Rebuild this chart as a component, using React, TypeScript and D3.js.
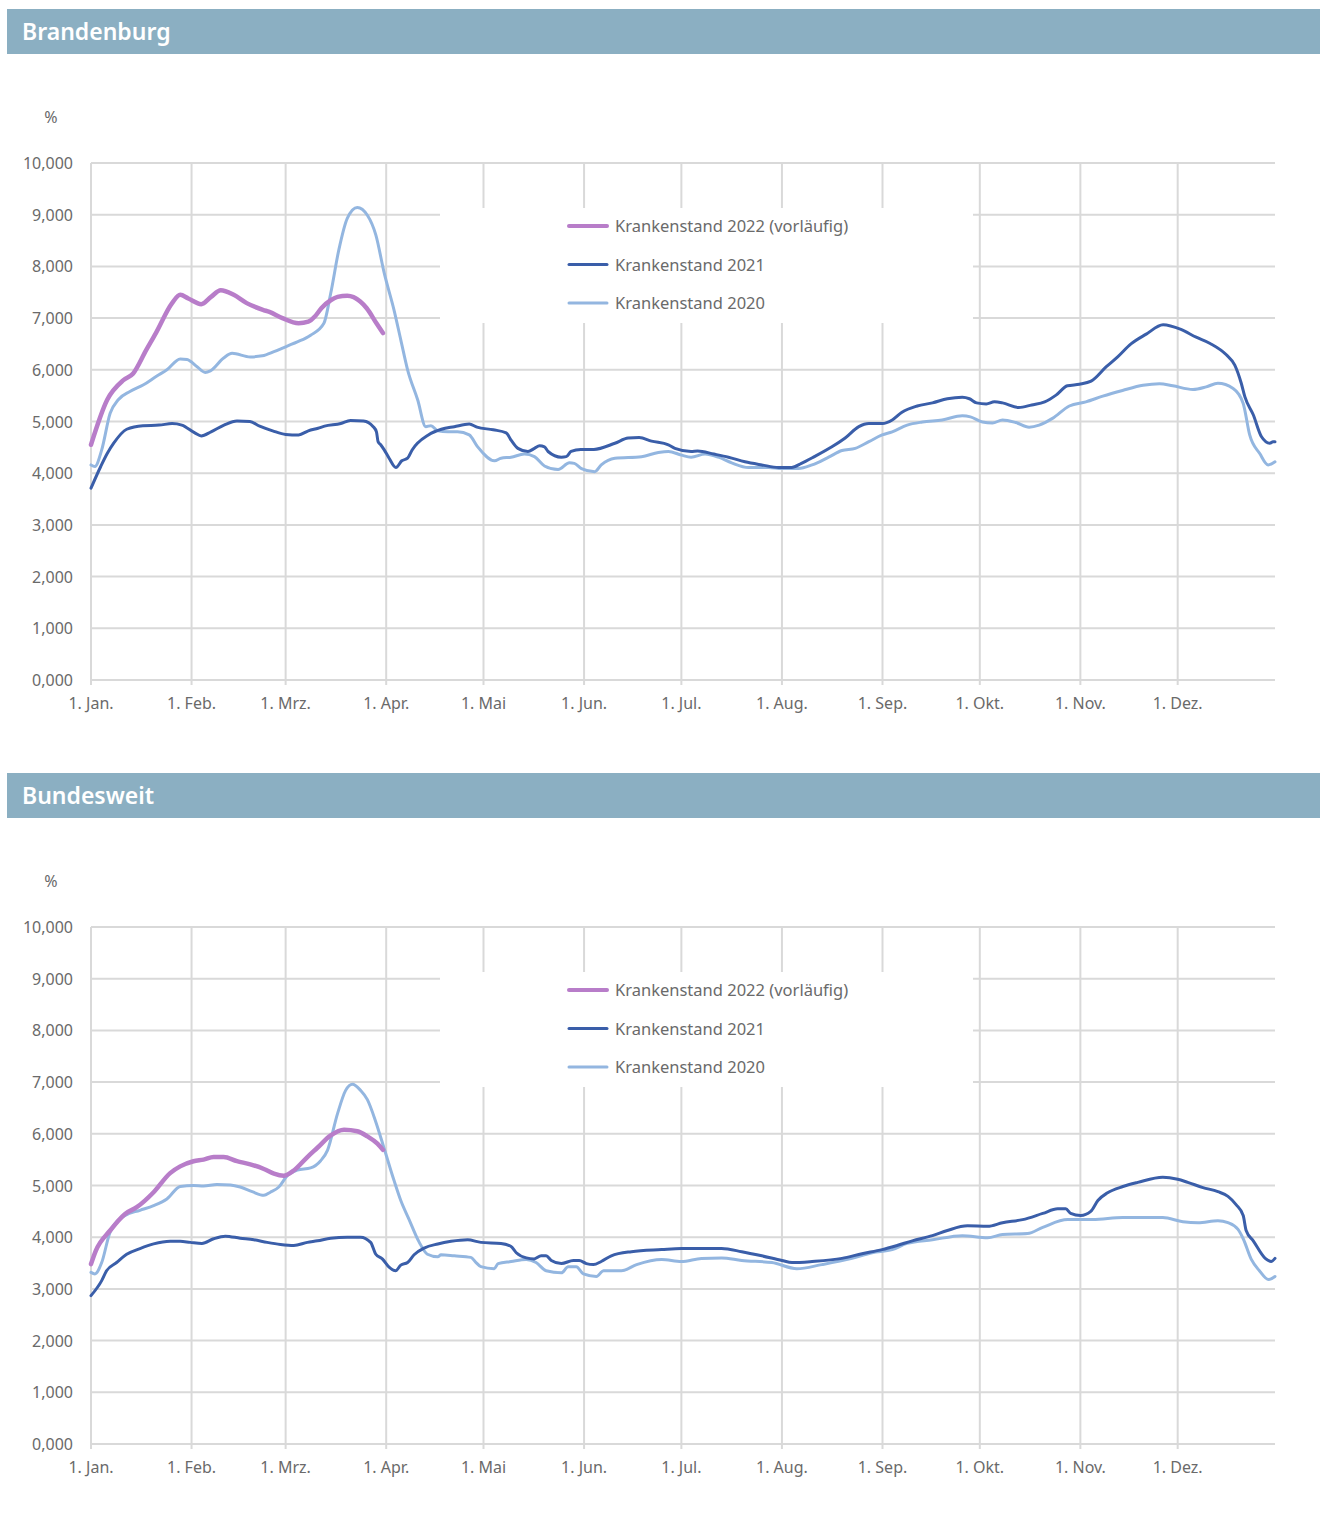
import React from 'react';
import * as d3 from 'd3';

// x values are day of year (0 = 1. Jan.), y values are sick-leave rate in %
const monthDays = [0, 31, 60, 91, 121, 152, 182, 213, 244, 274, 305, 335];
const monthLabels = ['1. Jan.', '1. Feb.', '1. Mrz.', '1. Apr.', '1. Mai', '1. Jun.', '1. Jul.', '1. Aug.', '1. Sep.', '1. Okt.', '1. Nov.', '1. Dez.'];
const yTicks = [0, 1, 2, 3, 4, 5, 6, 7, 8, 9, 10];
const seriesLabels = ['Krankenstand 2022 (vorläufig)', 'Krankenstand 2021', 'Krankenstand 2020'];

// Brandenburg
const bbDays2022 = [0, 5, 10, 13, 17, 20, 25, 27.5, 30, 34, 37, 40, 44, 48, 53, 55, 59, 64, 67, 69, 71, 74, 76, 79, 83, 85, 88, 90];
const bbVals2022 = [4.55, 5.42, 5.8, 5.93, 6.38, 6.71, 7.29, 7.45, 7.38, 7.27, 7.41, 7.54, 7.45, 7.29, 7.16, 7.12, 7.0, 6.9, 6.93, 7.03, 7.19, 7.35, 7.41, 7.43, 7.32, 7.19, 6.9, 6.71];

const bbDays2021 = [0, 3, 5, 7, 11, 16, 21, 25, 28, 32, 34, 37, 41, 45, 49, 52, 56, 60, 64, 67, 70, 72, 77, 80, 84, 87, 88, 88.5, 89.3, 90.4, 91.9, 94, 95.8, 97.6, 99, 104, 108, 112, 116.6, 119, 124, 128, 129.5, 131.6, 134.7, 136.7, 138.3, 139.8, 140.9, 145, 146.5, 148, 151, 155, 161.5, 165.6, 169, 172.8, 178, 180, 185, 187, 192, 196.5, 201.6, 206.8, 212, 216, 219, 223, 228.4, 232.5, 236.7, 239.8, 244, 247, 250, 254.7, 259.4, 264, 268.6, 270.8, 273, 276, 278.5, 281, 286, 290, 294, 297.5, 301, 304.7, 308.3, 313, 316.5, 320.6, 325.3, 330.5, 336, 340.7, 345, 350, 352.6, 354.6, 355.7, 358.3, 360.8, 363.4, 364.4, 365];
const bbVals2021 = [3.71, 4.13, 4.38, 4.58, 4.85, 4.92, 4.93, 4.96, 4.93, 4.78, 4.72, 4.8, 4.93, 5.01, 5.0, 4.91, 4.82, 4.75, 4.74, 4.82, 4.87, 4.91, 4.96, 5.02, 5.01, 4.9, 4.8, 4.61, 4.55, 4.45, 4.29, 4.11, 4.24, 4.29, 4.45, 4.74, 4.85, 4.9, 4.95, 4.89, 4.84, 4.78, 4.64, 4.48, 4.42, 4.48, 4.53, 4.51, 4.42, 4.31, 4.32, 4.42, 4.46, 4.46, 4.58, 4.68, 4.69, 4.62, 4.55, 4.48, 4.42, 4.43, 4.37, 4.31, 4.22, 4.16, 4.11, 4.11, 4.19, 4.32, 4.51, 4.68, 4.9, 4.96, 4.96, 5.03, 5.18, 5.3, 5.36, 5.44, 5.47, 5.44, 5.36, 5.34, 5.38, 5.36, 5.27, 5.32, 5.38, 5.51, 5.69, 5.72, 5.78, 6.06, 6.25, 6.5, 6.69, 6.87, 6.78, 6.63, 6.51, 6.29, 6.09, 5.74, 5.48, 5.13, 4.71, 4.58, 4.61, 4.61];

const bbDays2020 = [0, 1.2, 3.3, 5.9, 8.4, 12, 16.2, 20.3, 23.4, 27.5, 29.6, 32.7, 35.2, 36.8, 40.9, 43.5, 49.1, 52.8, 56.4, 60.5, 63.6, 67.7, 71.8, 73.9, 76.4, 79, 82.1, 85.2, 87.8, 90.4, 93.4, 95.5, 97.6, 100.7, 103.2, 104.8, 106.9, 110, 113, 116.6, 119.2, 124.4, 126.4, 129.5, 133.6, 136.7, 139.8, 144, 147.5, 149, 151.2, 155.3, 157.3, 161.5, 169.7, 174.9, 178, 182, 185, 189.3, 193.4, 197.5, 202.7, 208.9, 213, 218.1, 222.3, 227.4, 231.5, 235.6, 239.8, 243.9, 247, 251.6, 256.3, 262.4, 268.6, 271.1, 274.8, 277.9, 281, 285.1, 289.2, 292.3, 296.4, 301.6, 306.7, 311.9, 318, 324.3, 329.4, 333.5, 339.7, 343.8, 347.4, 352.1, 355.2, 357.2, 360.3, 362.9, 365];
const bbVals2020 = [4.16, 4.13, 4.45, 5.16, 5.42, 5.58, 5.71, 5.88, 6.0, 6.21, 6.2, 6.06, 5.95, 5.98, 6.23, 6.32, 6.25, 6.27, 6.35, 6.46, 6.54, 6.67, 6.9, 7.48, 8.32, 8.93, 9.14, 8.99, 8.61, 7.87, 7.16, 6.58, 6.0, 5.42, 4.9, 4.92, 4.82, 4.8, 4.8, 4.74, 4.51, 4.24, 4.29, 4.31, 4.37, 4.32, 4.14, 4.07, 4.2, 4.19, 4.09, 4.03, 4.16, 4.29, 4.32, 4.4, 4.42, 4.35, 4.31, 4.37, 4.31, 4.2, 4.11, 4.11, 4.09, 4.09, 4.16, 4.31, 4.44, 4.48, 4.61, 4.74, 4.8, 4.93, 4.99, 5.03, 5.11, 5.09, 4.99, 4.97, 5.03, 4.98, 4.89, 4.93, 5.06, 5.3, 5.38, 5.49, 5.6, 5.7, 5.73, 5.69, 5.62, 5.67, 5.74, 5.64, 5.35, 4.74, 4.38, 4.16, 4.22];

// Bundesweit
const bwDays2022 = [0, 1.5, 5.9, 10.5, 14.1, 19.3, 24.4, 27.5, 31.6, 34.7, 37.8, 40.9, 45, 49.1, 53.3, 56.4, 59.4, 62.5, 66.7, 69.8, 73.9, 78, 82.1, 85.2, 88.3, 90];
const bwVals2022 = [3.48, 3.74, 4.13, 4.45, 4.58, 4.87, 5.24, 5.37, 5.47, 5.5, 5.55, 5.55, 5.47, 5.41, 5.32, 5.23, 5.19, 5.29, 5.55, 5.73, 5.97, 6.08, 6.05, 5.95, 5.81, 5.69];

const bwDays2021 = [0, 3.3, 4.8, 7.9, 11, 15.1, 19.3, 24.4, 27.5, 30.6, 34.2, 37.8, 41.4, 46, 50.2, 54.3, 58.4, 62.5, 66.7, 69.8, 73.9, 79, 83.1, 86.2, 87.8, 89.8, 91.9, 93.9, 95.5, 97.6, 99.6, 102.7, 106.9, 111, 116.1, 120.2, 126.4, 129.5, 131.1, 134.2, 136.6, 138.8, 140.3, 141.9, 145, 148.7, 150.5, 152.7, 154.9, 157.3, 160.4, 166.6, 175.9, 182, 188.2, 194.4, 200.6, 206.8, 213, 216.1, 222.3, 231.5, 237.7, 243.9, 248.5, 253.2, 259.4, 264, 270.2, 276.4, 281, 287.2, 293.4, 298, 300.5, 302, 305.1, 308.2, 310.4, 313.4, 318.1, 322.7, 330.4, 335, 338.1, 342.8, 347.4, 350.5, 353, 355.2, 356.1, 358.3, 362, 363.8, 365];
const bwVals2021 = [2.87, 3.16, 3.35, 3.51, 3.67, 3.78, 3.87, 3.92, 3.92, 3.9, 3.88, 3.97, 4.02, 3.98, 3.95, 3.9, 3.86, 3.84, 3.9, 3.93, 3.98, 4.0, 4.0, 3.9, 3.67, 3.58, 3.42, 3.35, 3.46, 3.51, 3.66, 3.79, 3.87, 3.92, 3.95, 3.9, 3.88, 3.82, 3.7, 3.6, 3.58, 3.64, 3.64, 3.55, 3.49, 3.55, 3.55, 3.49, 3.47, 3.53, 3.64, 3.72, 3.76, 3.78, 3.78, 3.78, 3.72, 3.64, 3.55, 3.51, 3.53, 3.59, 3.68, 3.76, 3.84, 3.93, 4.03, 4.13, 4.22, 4.21, 4.28, 4.34, 4.46, 4.55, 4.55, 4.46, 4.42, 4.5, 4.71, 4.86, 4.98, 5.06, 5.16, 5.12, 5.06, 4.96, 4.88, 4.79, 4.63, 4.42, 4.13, 3.93, 3.59, 3.53, 3.59];

const bwDays2020 = [0, 1.2, 3.3, 5.9, 10.5, 15.1, 19.3, 23.4, 27.5, 31.6, 34.7, 38.8, 43, 46, 49.7, 53.3, 55.3, 57.9, 60.5, 63.6, 67.7, 70.8, 72.9, 76, 78.5, 80.6, 83.1, 85.2, 87.8, 90.4, 93.4, 95.5, 98, 101.2, 103.7, 106.9, 107.9, 112, 117.1, 118.7, 120.2, 124.3, 125.5, 129.5, 134.2, 137.2, 140.3, 145, 147.1, 149.6, 151.8, 155.8, 158, 163.5, 168.2, 175.9, 182, 188.2, 194.4, 200.6, 209.9, 217.6, 225.3, 234.6, 240.8, 247, 251.6, 259.4, 268.6, 276.4, 281, 288.7, 293.4, 301.1, 308.8, 318.1, 330.4, 336.6, 341.3, 347.4, 350.5, 353.6, 355.2, 357.7, 360.2, 363, 365];
const bwVals2020 = [3.32, 3.29, 3.51, 4.1, 4.42, 4.52, 4.61, 4.74, 4.98, 5.0, 4.99, 5.02, 5.01, 4.97, 4.88, 4.81, 4.87, 4.97, 5.19, 5.3, 5.34, 5.48, 5.68, 6.39, 6.84, 6.96, 6.84, 6.66, 6.23, 5.71, 5.1, 4.71, 4.35, 3.9, 3.67, 3.62, 3.66, 3.64, 3.61, 3.51, 3.43, 3.39, 3.49, 3.53, 3.57, 3.51, 3.35, 3.31, 3.43, 3.43, 3.29, 3.24, 3.35, 3.35, 3.47, 3.57, 3.53, 3.59, 3.6, 3.55, 3.51, 3.39, 3.47, 3.59, 3.7, 3.76, 3.88, 3.95, 4.03, 3.99, 4.05, 4.07, 4.19, 4.34, 4.34, 4.38, 4.38, 4.3, 4.28, 4.32, 4.28, 4.15, 3.97, 3.57, 3.35, 3.18, 3.24];

const colors = ['#b87dc9', '#3a5ea9', '#93b6e0'];
const widths = [4.5, 3, 3];
const FONT = '"Noto Sans", "Open Sans", sans-serif';
const TEXT = '#6a6a6a';
const GRID = '#d9d9d9';

const zip = (d: number[], v: number[]) => d.map((x, i) => [x, v[i]] as [number, number]);

function Panel({ top, title, series }: { top: number; title: string; series: [number, number][][] }) {
  const plotTop = top + 154;
  const plotBottom = top + 671;
  const x = d3.scaleLinear().domain([0, 365]).range([91, 1275]);
  const y = d3.scaleLinear().domain([0, 10]).range([plotBottom, plotTop]);
  const line = d3
    .line<[number, number]>()
    .x((d) => x(d[0]))
    .y((d) => y(d[1]))
    .curve(d3.curveMonotoneX);
  const fmt = (v: number) => v.toFixed(3).replace('.', ',');
  const legendX = 569;
  const legendY = plotTop + 63;
  return (
    <g>
      <rect x={7} y={top} width={1313} height={45} fill="#8bafc2" />
      <text x={22} y={top + 31} fill="#fff" fontFamily={FONT} fontWeight={600} fontSize={23}>
        {title}
      </text>
      <text x={51} y={top + 114} fill={TEXT} fontFamily={FONT} fontSize={16} textAnchor="middle">
        %
      </text>
      {yTicks.map((t) => (
        <g key={t}>
          <line x1={91} x2={1275} y1={y(t)} y2={y(t)} stroke={GRID} strokeWidth={2} />
          <text x={73} y={y(t) + 6} fill={TEXT} fontFamily={FONT} fontSize={16} textAnchor="end">
            {t === 10 ? '10,000' : fmt(t)}
          </text>
        </g>
      ))}
      {monthDays.map((d, i) => (
        <g key={d}>
          <line x1={x(d)} x2={x(d)} y1={plotTop} y2={plotBottom + 5} stroke={GRID} strokeWidth={2} />
          <text x={x(d)} y={plotBottom + 29} fill={TEXT} fontFamily={FONT} fontSize={16} textAnchor="middle">
            {monthLabels[i]}
          </text>
        </g>
      ))}
      <rect x={440} y={plotTop + 45} width={533} height={115} fill="#fff" />
      {[2, 1, 0].map((i) => (
        <path key={i} d={line(series[i]) || ''} fill="none" stroke={colors[i]} strokeWidth={widths[i]} strokeLinejoin="round" strokeLinecap="round" />
      ))}
      {seriesLabels.map((lab, i) => (
        <g key={lab}>
          <line x1={legendX} x2={legendX + 38} y1={legendY + i * 38.5} y2={legendY + i * 38.5} stroke={colors[i]} strokeWidth={i === 0 ? 4 : 3} strokeLinecap="round" />
          <text x={615} y={legendY + i * 38.5 + 6} fill={TEXT} fontFamily={FONT} fontSize={16.5}>
            {lab}
          </text>
        </g>
      ))}
    </g>
  );
}

export default function App() {
  const bb = [zip(bbDays2022, bbVals2022), zip(bbDays2021, bbVals2021), zip(bbDays2020, bbVals2020)];
  const bw = [zip(bwDays2022, bwVals2022), zip(bwDays2021, bwVals2021), zip(bwDays2020, bwVals2020)];
  return (
    <svg width={1320} height={1535} style={{ position: 'absolute', left: 0, top: 0, background: '#fff' }}>
      <Panel top={9} title="Brandenburg" series={bb} />
      <Panel top={773} title="Bundesweit" series={bw} />
    </svg>
  );
}
